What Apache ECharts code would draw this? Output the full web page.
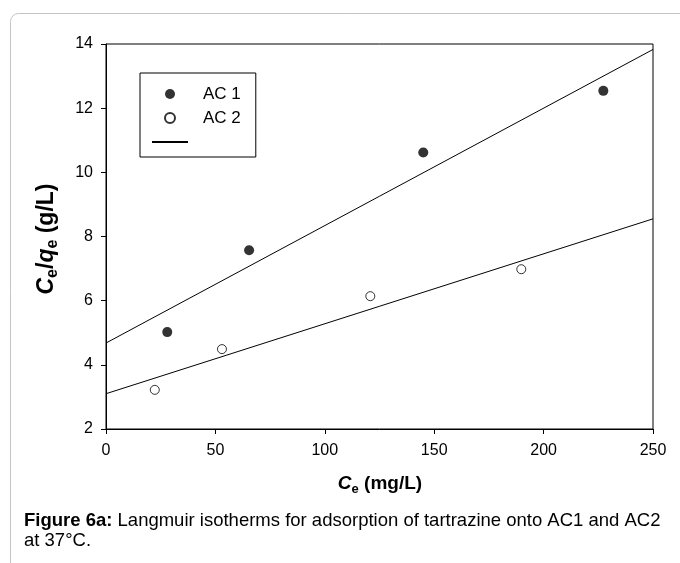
<!DOCTYPE html>
<html>
<head>
<meta charset="utf-8">
<script src="https://cdn.jsdelivr.net/npm/echarts@6/dist/echarts.min.js"></script>
<style>
  html, body { margin: 0; padding: 0; background: #fff; }
  #chart { width: 680px; height: 563px; }
</style>
</head>
<body>
<div id="chart"></div>
<script>
const FONT = 'Arial, "Liberation Sans", sans-serif';

// Equilibrium data: [Ce (mg/L), Ce/qe (g/L)]
const ac1Points = [[28.0, 5.02], [65.4, 7.57], [145.0, 10.62], [227.3, 12.54]];
const ac2Points = [[22.3, 3.22], [53.0, 4.49], [120.8, 6.14], [189.8, 6.98]];

// Linearised Langmuir fits, end points across the plotted range
const ac1Fit = [[0, 4.68], [250, 13.83]];
const ac2Fit = [[0, 3.10], [250, 8.55]];

// Axis ranges and tick steps
const xRange = [0, 250];
const xStep = 50;
const yRange = [2, 14];
const yStep = 2;

const chart = echarts.init(document.getElementById('chart'), null, { renderer: 'canvas' });

const labelStyle = { color: '#000', fontFamily: FONT, fontSize: 16 };

const richTitle = (size, subSize) => ({
  ci: { fill: '#000', fontFamily: FONT, fontSize: size, fontWeight: 'bold', fontStyle: 'italic', lineHeight: size + 5, verticalAlign: 'middle' },
  n:  { fill: '#000', fontFamily: FONT, fontSize: size, fontWeight: 'bold', lineHeight: size + 5, verticalAlign: 'middle' },
  sub:{ fill: '#000', fontFamily: FONT, fontSize: subSize, fontWeight: 'bold', lineHeight: subSize + 1, verticalAlign: 'bottom' }
});

chart.setOption({
  animation: false,
  backgroundColor: '#fff',
  grid: {
    left: 106, right: 27, top: 44, bottom: 134,
    show: true, borderColor: '#000', borderWidth: 1, backgroundColor: 'transparent'
  },
  xAxis: {
    type: 'value',
    min: xRange[0], max: xRange[1], interval: xStep,
    axisLine: { show: true, lineStyle: { color: '#000', width: 1 } },
    axisTick: { show: true, inside: false, length: 5, lineStyle: { color: '#000' } },
    axisLabel: Object.assign({ margin: 14 }, labelStyle),
    splitLine: { show: false }
  },
  yAxis: {
    type: 'value',
    min: yRange[0], max: yRange[1], interval: yStep,
    axisLine: { show: true, lineStyle: { color: '#000', width: 1 } },
    axisTick: { show: true, inside: false, length: 5, lineStyle: { color: '#000' } },
    axisLabel: Object.assign({ margin: 13 }, labelStyle),
    splitLine: { show: false }
  },
  legend: {
    data: [
      'AC 1',
      'AC 2',
      // fitted-line entry: plain stroke, no marker
      { name: ' ', itemStyle: { color: 'rgba(0,0,0,0)', borderWidth: 0, opacity: 0 } }
    ],
    orient: 'vertical',
    left: 140, top: 73,
    padding: [11, 15, 5, 11],
    itemWidth: 36, itemHeight: 10, itemGap: 4,
    borderColor: '#000', borderWidth: 1, backgroundColor: '#fff',
    selectedMode: false,
    textStyle: { color: '#000', fontFamily: FONT, fontSize: 17, lineHeight: 20, padding: [0, 0, 0, 10] }
  },
  series: [
    {
      name: ' ', type: 'line', data: ac1Fit, symbol: 'none', z: 1,
      lineStyle: { color: '#000', width: 1 }, itemStyle: { color: '#000' }
    },
    {
      name: ' ', type: 'line', data: ac2Fit, symbol: 'none', z: 1,
      lineStyle: { color: '#000', width: 1 }, itemStyle: { color: '#000' }
    },
    {
      name: 'AC 1', type: 'scatter', data: ac1Points, symbol: 'circle', symbolSize: 10, z: 3,
      itemStyle: { color: '#000', borderColor: '#000', borderWidth: 0 }
    },
    {
      name: 'AC 2', type: 'scatter', data: ac2Points, symbol: 'circle', symbolSize: 9, z: 3,
      itemStyle: { color: '#fff', borderColor: '#000', borderWidth: 1 }
    }
  ],
  graphic: [
    {
      type: 'rect', silent: true, z: -10,
      shape: { x: 10.5, y: 13.5, width: 800, height: 700, r: 8 },
      style: { fill: 'none', stroke: '#c4c4c4', lineWidth: 1 }
    },
    {
      type: 'text', silent: true,
      x: 47, y: 239, rotation: Math.PI / 2,
      style: {
        text: '{ci|C}{sub|e}{n|/}{ci|q}{sub|e}{n| (g/L)}',
        rich: richTitle(23, 16),
        align: 'center', verticalAlign: 'middle'
      }
    },
    {
      type: 'text', silent: true,
      x: 380, y: 484,
      style: {
        text: '{ci|C}{sub|e}{n| (mg/L)}',
        rich: richTitle(19, 13),
        align: 'center', verticalAlign: 'middle'
      }
    },
    {
      type: 'text', silent: true,
      x: 24, y: 511,
      style: {
        text: '{b|Figure 6a:}{r| Langmuir isotherms for adsorption of tartrazine onto AC1 and AC2}\n{r|at 37°C.}',
        rich: {
          b: { fill: '#000', fontFamily: FONT, fontSize: 18.5, fontWeight: 'bold', lineHeight: 20 },
          r: { fill: '#000', fontFamily: FONT, fontSize: 18.5, lineHeight: 20 }
        },
        align: 'left', verticalAlign: 'top'
      }
    }
  ]
});
</script>
</body>
</html>
